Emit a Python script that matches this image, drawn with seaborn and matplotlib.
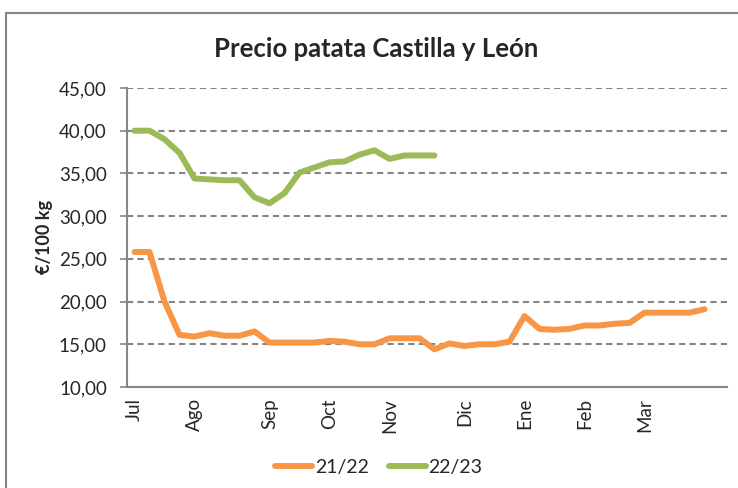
import pandas as pd
import numpy as np
import matplotlib.pyplot as plt
import seaborn as sns
from matplotlib.patches import Rectangle

# weekly prices (€/100 kg), one value per week from July
precio_2122 = [25.8, 25.8, 20.0, 16.1, 15.9, 16.3, 16.0, 16.0, 16.5, 15.2,
               15.2, 15.2, 15.2, 15.4, 15.3, 15.0, 15.0, 15.7, 15.7, 15.7,
               14.4, 15.1, 14.8, 15.0, 15.0, 15.3, 18.3, 16.8, 16.7, 16.8,
               17.2, 17.2, 17.4, 17.5, 18.7, 18.7, 18.7, 18.7, 19.1, np.nan]
precio_2223 = [40.0, 40.0, 39.0, 37.4, 34.4, 34.3, 34.2, 34.2, 32.2, 31.5,
               32.7, 35.1, 35.7, 36.3, 36.4, 37.2, 37.7, 36.7, 37.1, 37.1,
               37.1] + [np.nan] * 19
meses = ['Jul', 'Ago', 'Sep', 'Oct', 'Nov', 'Dic', 'Ene', 'Feb', 'Mar']
mes_semana = [0, 4, 9, 13, 17, 22, 26, 30, 34]
campanas = ['21/22', '22/23']
colores = ['#F79646', '#9BBB59']

semanas = np.arange(len(precio_2122))
df = pd.DataFrame({
    'semana': np.concatenate([semanas, semanas]),
    'precio': precio_2122 + precio_2223,
    'campana': [campanas[0]] * len(semanas) + [campanas[1]] * len(semanas),
})

sns.set_style('white')
plt.rcParams['font.family'] = ['Lato', 'DejaVu Sans']

fig = plt.figure(figsize=(7.38, 4.88), dpi=100)
ax = fig.add_axes([0.1721, 0.2070, 0.813, 0.6127])

# chart border
fig.patches.append(Rectangle((6 / 738, -0.1), 1.2, 1.1 - 13 / 488, transform=fig.transFigure,
                             fill=False, edgecolor='#868686', linewidth=1.5))

sns.lineplot(data=df, x='semana', y='precio', hue='campana', palette=colores,
             linewidth=4.3, ax=ax, legend=True)
for l in ax.lines:
    l.set_solid_capstyle('round')
    l.set_solid_joinstyle('round')

ax.set_xlim(-0.5, len(semanas) - 0.5)
ax.set_ylim(10, 45)
ax.set_yticks(np.arange(10, 46, 5))
ax.set_yticklabels([f'{v:.2f}'.replace('.', ',') for v in np.arange(10, 46, 5)],
                   fontsize=13.5, color='#262626')
ax.set_xticks(mes_semana)
ax.set_xticklabels(meses, rotation=90, fontsize=13.5, color='#262626')
ax.set_xticks(np.arange(-0.5, len(semanas), 1), minor=True)
ax.tick_params(axis='x', which='major', length=0, pad=8)
ax.tick_params(axis='x', which='minor', length=5, width=1.2, color='#868686', direction='out')
ax.tick_params(axis='y', length=5, width=1.2, color='#868686', direction='out', left=True, pad=9.5)

ax.grid(axis='y', linestyle=(0, (3, 2)), color='#868686', linewidth=1.5)
for s in ['top', 'right']:
    ax.spines[s].set_visible(False)
for s in ['left', 'bottom']:
    ax.spines[s].set_color('#868686')
    ax.spines[s].set_linewidth(1.5)

ax.set_xlabel('')
ax.set_ylabel('€/100 kg', fontsize=13, fontweight='bold', labelpad=4)
fig.text(0.510, 0.9, 'Precio patata Castilla y León', ha='center', va='center',
         fontsize=18.5, fontweight='bold')

leg = ax.legend(loc='center', bbox_to_anchor=(0.42, -0.27), ncol=2, frameon=False,
                fontsize=14, handlelength=1.9, columnspacing=1.0, handletextpad=0.15)

plt.savefig('out.png', dpi=100)
